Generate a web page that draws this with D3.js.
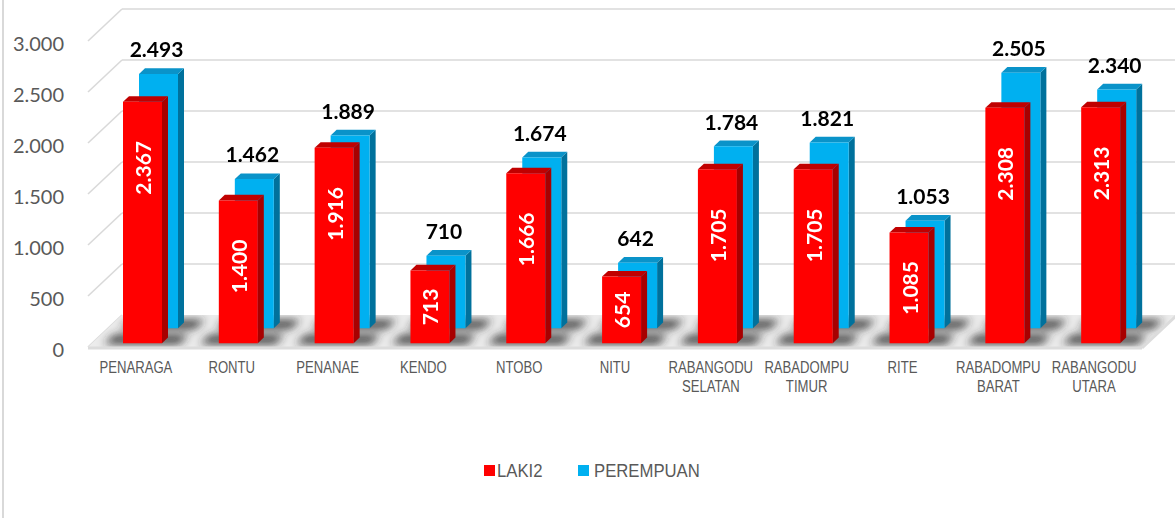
<!DOCTYPE html>
<html>
<head>
<meta charset="utf-8">
<script src="https://cdn.jsdelivr.net/npm/d3@7"></script>
<style>
  body { margin: 0; background: #fff; }
  svg { display: block; }
</style>
</head>
<body>
<svg id="chart"></svg>
<script>
// data
const categories = ["PENARAGA", "RONTU", "PENANAE", "KENDO", "NTOBO", "NITU",
  "RABANGODU SELATAN", "RABADOMPU TIMUR", "RITE", "RABADOMPU BARAT", "RABANGODU UTARA"];
const laki2 = [2367, 1400, 1916, 713, 1666, 654, 1705, 1705, 1085, 2308, 2313];
const perempuan = [2493, 1462, 1889, 710, 1674, 642, 1784, 1821, 1053, 2505, 2340];
const yTicks = [0, 500, 1000, 1500, 2000, 2500, 3000];
const seriesNames = ["LAKI2", "PEREMPUAN"];

const width = 1175, height = 518;
const depth = 34, slope = 32 / 34;   // oblique projection of the floor depth
const barW = 39, barD = 6;

const locale = d3.formatLocale({ decimal: ",", thousands: ".", grouping: [3], currency: ["", ""] });
const fmt = locale.format(",d");

const svg = d3.select("#chart").attr("width", width).attr("height", height);

const x = d3.scaleBand().domain(categories).range([88, 1142]);
const y = d3.scaleLinear().domain([0, 3000]).range([347, 41]);

// move a front-plane point back by z
const P = (px, py, z) => [px + z, py - z * slope];
const pts = arr => arr.map(p => p.join(",")).join(" ");

const defs = svg.append("defs");
defs.append("filter").attr("id", "blur")
  .attr("x", "-20%").attr("y", "-50%").attr("width", "140%").attr("height", "200%")
  .append("feGaussianBlur").attr("stdDeviation", 4.5);
defs.append("clipPath").attr("id", "floorClip")
  .append("polygon")
  .attr("points", pts([[88, y(0)], [1142, y(0)], P(1142, y(0), depth), P(88, y(0), depth)]));

// chart border (left edge)
svg.append("line").attr("x1", 3).attr("x2", 3).attr("y1", 0).attr("y2", height)
  .attr("stroke", "#d9d9d9").attr("stroke-width", 2);

// back wall gridlines + side wall diagonals
const grid = svg.append("g").attr("stroke", "#d9d9d9").attr("stroke-width", 1.6).attr("fill", "none");
yTicks.forEach(v => {
  const b = P(88, y(v), depth);
  grid.append("line").attr("x1", 88).attr("y1", y(v)).attr("x2", b[0]).attr("y2", b[1]);
  if (v > 0) grid.append("line").attr("x1", b[0]).attr("y1", b[1]).attr("x2", width + 5).attr("y2", b[1]);
});

// floor
svg.append("polygon")
  .attr("points", pts([[88, y(0)], [1142, y(0)], P(1142, y(0), depth), P(88, y(0), depth)]))
  .attr("fill", "#ececec");

const shadowG = svg.append("g").attr("clip-path", "url(#floorClip)")
  .append("g").attr("filter", "url(#blur)");
const base = c => x(c) + 31;
[4, 20].forEach(z0 => {
  categories.forEach(c => {
    const x0 = base(c) - 18, x1 = base(c) + barW + 18;
    shadowG.append("polygon")
      .attr("points", pts([P(x0, y(0), z0 - 1), P(x1, y(0), z0 - 1), P(x1, y(0), z0 + barD + 3), P(x0, y(0), z0 + barD + 3)]))
      .attr("fill", "#2a2a2a").attr("opacity", 0.85);
  });
});

// floor front edge
svg.append("line").attr("x1", 88).attr("x2", 1142).attr("y1", y(0) + 1).attr("y2", y(0) + 1)
  .attr("stroke", "#dcdcdc").attr("stroke-width", 3);
svg.append("line").attr("x1", 1142).attr("y1", y(0) + 1).attr("x2", 1176).attr("y2", y(0) + 1 - depth * slope)
  .attr("stroke", "#dcdcdc").attr("stroke-width", 3);

// bars
function drawBars(values, z0, colors, cls) {
  const g = svg.append("g").attr("class", cls);
  const bar = g.selectAll("g").data(categories.map((c, i) => ({ c, v: values[i] })))
    .join("g");
  bar.append("polygon") // side
    .attr("points", d => {
      const xr = base(d.c) + barW;
      return pts([P(xr, y(d.v), z0), P(xr, y(0), z0), P(xr, y(0), z0 + barD), P(xr, y(d.v), z0 + barD)]);
    })
    .attr("fill", colors.side);
  bar.append("polygon") // top
    .attr("points", d => {
      const xl = base(d.c), xr = xl + barW;
      return pts([P(xl, y(d.v), z0), P(xr, y(d.v), z0), P(xr, y(d.v), z0 + barD), P(xl, y(d.v), z0 + barD)]);
    })
    .attr("fill", colors.top);
  bar.append("polygon") // front
    .attr("points", d => {
      const xl = base(d.c), xr = xl + barW;
      return pts([P(xl, y(d.v), z0), P(xr, y(d.v), z0), P(xr, y(0), z0), P(xl, y(0), z0)]);
    })
    .attr("fill", colors.front);
  return bar;
}

const blueBars = drawBars(perempuan, 20, { front: "#00b0f0", top: "#0a93c9", side: "#00719c" }, "perempuan");
const redBars = drawBars(laki2, 4, { front: "#ff0000", top: "#c00000", side: "#a80000" }, "laki2");

// labels on top of blue bars
blueBars.append("text")
  .attr("x", d => P(base(d.c) + barW / 2, 0, 20)[0] - 2)
  .attr("y", d => P(0, y(d.v), 20 + barD)[1] - 11)
  .attr("text-anchor", "middle")
  .style("font-family", "Lato, 'Open Sans', sans-serif")
  .style("font-weight", 700).style("font-size", "21px").attr("fill", "#000")
  .text(d => fmt(d.v));

// labels inside red bars
redBars.append("text")
  .attr("transform", d => {
    const top = P(0, y(d.v), 4)[1], bot = P(0, y(0), 4)[1];
    const cy = top + Math.min((bot - top) / 2, 66);
    const cx = P(base(d.c) + barW / 2, 0, 4)[0];
    return `translate(${cx},${cy}) rotate(-90)`;
  })
  .attr("text-anchor", "middle").attr("dominant-baseline", "central")
  .style("font-family", "Lato, 'Open Sans', sans-serif")
  .style("font-weight", 700).style("font-size", "21px").attr("fill", "#fff")
  .text(d => fmt(d.v));

// y axis labels
svg.append("g").selectAll("text").data(yTicks).join("text")
  .attr("x", 64).attr("y", d => y(d) + 3).attr("dy", "0.35em")
  .attr("text-anchor", "end")
  .style("font-family", "Lato, 'Open Sans', sans-serif").style("font-size", "20px")
  .attr("fill", "#595959")
  .text(d => fmt(d));

// category labels (narrow look: squeezed Liberation Sans)
const sans = "'Liberation Sans', Arial, sans-serif";
const catG = svg.append("g").selectAll("text").data(categories).join("text")
  .attr("transform", d => `translate(${x(d) + x.bandwidth() / 2},373) scale(0.82,1)`)
  .attr("text-anchor", "middle")
  .style("font-family", sans).style("font-size", "16px").attr("fill", "#595959");
catG.selectAll("tspan").data(d => d.split(" ")).join("tspan")
  .attr("x", 0)
  .attr("dy", (d, i) => i === 0 ? 0 : 19.5)
  .text(d => d);

// legend
const legendColors = ["#ff0000", "#00b0f0"];
const legendX = [484, 578];
const legend = svg.append("g").selectAll("g").data(seriesNames).join("g")
  .attr("transform", (d, i) => `translate(${legendX[i]},465)`);
legend.append("rect").attr("width", 11).attr("height", 11).attr("fill", (d, i) => legendColors[i]);
legend.append("text")
  .attr("transform", (d, i) => `translate(${i === 0 ? 13 : 16},12) scale(0.88,1)`)
  .style("font-family", sans).style("font-size", "19px").attr("fill", "#595959")
  .text(d => d);
</script>
</body>
</html>
